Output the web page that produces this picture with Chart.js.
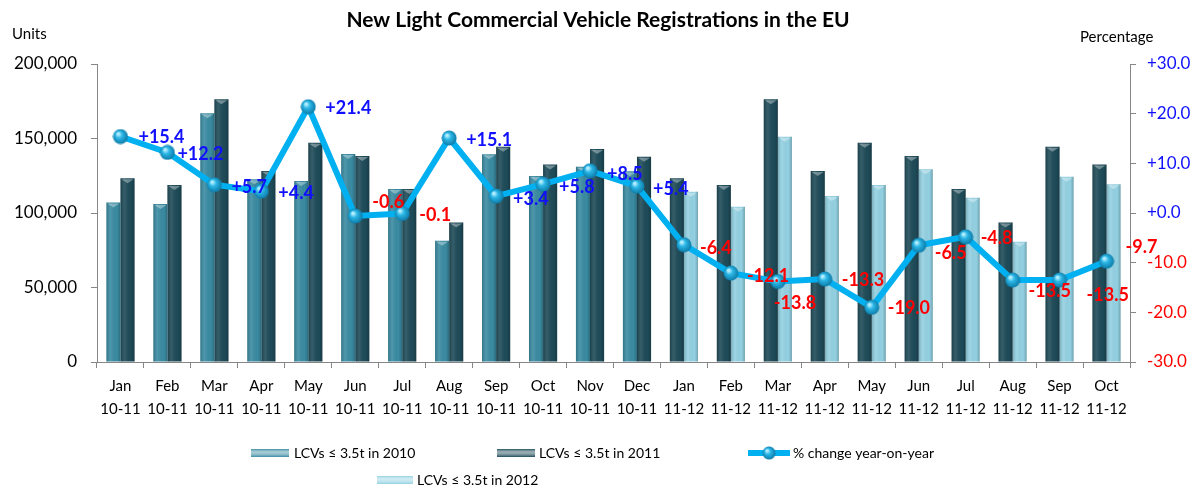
<!DOCTYPE html>
<html>
<head>
<meta charset="utf-8">
<script src="https://cdn.jsdelivr.net/npm/chart.js@4"></script>
<style>
  html, body { margin: 0; padding: 0; background: #fff; }
</style>
</head>
<body>
<canvas id="lcv" width="1201" height="486"></canvas>
<script>
// Categorias (mês + período)
const meses = ['Jan', 'Feb', 'Mar', 'Apr', 'May', 'Jun', 'Jul', 'Aug', 'Sep', 'Oct', 'Nov', 'Dec',
               'Jan', 'Feb', 'Mar', 'Apr', 'May', 'Jun', 'Jul', 'Aug', 'Sep', 'Oct'];
const periodos = ['10-11', '10-11', '10-11', '10-11', '10-11', '10-11', '10-11', '10-11', '10-11', '10-11', '10-11', '10-11',
                  '11-12', '11-12', '11-12', '11-12', '11-12', '11-12', '11-12', '11-12', '11-12', '11-12'];

// Registos (unidades)
const lcv2010 = [107000, 106000, 166900, 122600, 121500, 139600, 116100, 81400, 139400, 124800, 131100, 128000,
                 null, null, null, null, null, null, null, null, null, null];
const lcv2011 = [123300, 118800, 176300, 128200, 147200, 138300, 116100, 93700, 144500, 132500, 143000, 137800,
                 123300, 118800, 176300, 128200, 147200, 138300, 116100, 93700, 144500, 132500];
const lcv2012 = [null, null, null, null, null, null, null, null, null, null, null, null,
                 114300, 104200, 151200, 111400, 118800, 129300, 110300, 80700, 124400, 119300];

// Variação anual (%)
const pctChange = [15.4, 12.2, 5.7, 4.4, 21.4, -0.6, -0.1, 15.1, 3.4, 5.8, 8.5, 5.4,
                   -6.4, -12.1, -13.8, -13.3, -19.0, -6.5, -4.8, -13.5, -13.5, -9.7];

// Eixo direito
const pctTicks = [-30, -20, -10, 0, 10, 20, 30];

// deslocamento das etiquetas da linha (px, relativo ao ponto)
const labelDx = [18, 10, 17, 17, 17, 17, 17, 17, 17, 16, 17, 16, 16, 16, -4, 17, 16, 16, 15, 16, 27, 19];
const labelDy = [1, 2, 2, 2, 1, -14, 2, 2, 3, 3, 3, 3, 3, 3, 22, 1, 1, 8, 1, 11, 15, -14];

const FONT = 'Lato';
const cor2010 = '#3a8ba2';
const cor2011 = '#1e4b58';
const cor2012 = '#93d1e2';
const corLinha = '#00b0f0';

// esfera para os pontos
function makeSphere(r) {
    const c = document.createElement('canvas');
    c.width = c.height = r * 2;
    const g = c.getContext('2d');
    const grad = g.createRadialGradient(r * 0.7, r * 0.65, 1, r, r, r);
    grad.addColorStop(0, '#b5efff');
    grad.addColorStop(0.35, '#2bb6e6');
    grad.addColorStop(1, '#0a76a3');
    g.fillStyle = grad;
    g.beginPath();
    g.arc(r, r, r - 0.5, 0, Math.PI * 2);
    g.fill();
    return c;
}
const esfera = makeSphere(8);

function fmtPct(v) {
    return (v >= 0 ? '+' : '') + v.toFixed(1);
}

// título, legendas, etiquetas e um pouco de volume nas barras
const extras = {
    id: 'extras',
    afterDatasetDraw(chart, args) {
        if (args.meta.type !== 'bar') return;
        const ctx = chart.ctx;
        ctx.save();
        args.meta.data.forEach(el => {
            const p = el.getProps(['x', 'y', 'base', 'width']);
            if (!p.width || p.y == null || isNaN(p.y)) return;
            const x0 = p.x - p.width / 2;
            const g = ctx.createLinearGradient(x0, 0, x0 + p.width, 0);
            g.addColorStop(0, 'rgba(0,0,0,0.18)');
            g.addColorStop(0.3, 'rgba(255,255,255,0.10)');
            g.addColorStop(0.75, 'rgba(0,0,0,0)');
            g.addColorStop(1, 'rgba(0,0,0,0.22)');
            ctx.fillStyle = g;
            ctx.fillRect(x0, p.y, p.width, p.base - p.y);
            // tampa clara no topo
            ctx.fillStyle = 'rgba(255,255,255,0.35)';
            ctx.beginPath();
            ctx.moveTo(x0 + 1, p.y + 1);
            ctx.lineTo(x0 + p.width - 1, p.y + 1);
            ctx.lineTo(p.x, p.y + 5);
            ctx.closePath();
            ctx.fill();
        });
        ctx.restore();
    },
    afterDatasetsDraw(chart) {
        const ctx = chart.ctx;
        const meta = chart.getDatasetMeta(3);
        ctx.save();
        ctx.font = 'bold 18px ' + FONT;
        ctx.textBaseline = 'middle';
        ctx.textAlign = 'left';
        meta.data.forEach((pt, i) => {
            const v = pctChange[i];
            ctx.fillStyle = v >= 0 ? '#1010ff' : '#ff0000';
            ctx.fillText(fmtPct(v), pt.x + labelDx[i], pt.y + labelDy[i]);
        });
        ctx.restore();
    },
    afterDraw(chart) {
        const ctx = chart.ctx;
        ctx.save();
        ctx.fillStyle = '#000';
        ctx.textBaseline = 'middle';
        ctx.textAlign = 'center';
        ctx.font = 'bold 21px ' + FONT;
        ctx.fillText('New Light Commercial Vehicle Registrations in the EU', 598, 20);

        ctx.font = '15px ' + FONT;
        ctx.textAlign = 'left';
        ctx.fillText('Units', 12, 34);
        ctx.fillText('Percentage', 1080, 37);

        // legenda
        const caixa = (x, y, w, cor) => {
            const g = ctx.createLinearGradient(0, y, 0, y + 8);
            g.addColorStop(0, cor);
            g.addColorStop(0.4, 'rgba(255,255,255,0.55)');
            g.addColorStop(1, cor);
            ctx.fillStyle = cor;
            ctx.fillRect(x, y, w, 8);
            ctx.fillStyle = g;
            ctx.fillRect(x, y, w, 8);
        };
        ctx.font = '14px ' + FONT;
        caixa(251, 449, 38, cor2010);
        caixa(497, 449, 38, cor2011);
        caixa(377, 476, 36, cor2012);
        ctx.fillStyle = '#000';
        ctx.fillText(chart.data.datasets[0].label, 294, 453);
        ctx.fillText(chart.data.datasets[1].label, 539, 453);
        ctx.fillText(chart.data.datasets[2].label, 417, 480);

        ctx.strokeStyle = corLinha;
        ctx.lineWidth = 6;
        ctx.beginPath();
        ctx.moveTo(748, 453);
        ctx.lineTo(790, 453);
        ctx.stroke();
        ctx.drawImage(esfera, 769 - 7, 453 - 7, 14, 14);
        ctx.fillStyle = '#000';
        ctx.fillText(chart.data.datasets[3].label, 793, 453);
        ctx.restore();
    }
};

const barra = {
    yAxisID: 'y',
    order: 2,
    skipNull: true,
    categoryPercentage: 0.6,
    barPercentage: 1.0
};

const ctx = document.getElementById('lcv').getContext('2d');
const grafico = new Chart(ctx, {
    type: 'bar',
    data: {
        labels: meses.map((m, i) => [m, periodos[i]]),
        datasets: [
            Object.assign({ label: 'LCVs \u2264 3.5t in 2010', data: lcv2010, backgroundColor: cor2010 }, barra),
            Object.assign({ label: 'LCVs \u2264 3.5t in 2011', data: lcv2011, backgroundColor: cor2011 }, barra),
            Object.assign({ label: 'LCVs \u2264 3.5t in 2012', data: lcv2012, backgroundColor: cor2012 }, barra),
            {
                type: 'line',
                label: '% change year-on-year',
                data: pctChange,
                yAxisID: 'y1',
                order: 0,
                borderColor: corLinha,
                borderWidth: 6,
                tension: 0,
                pointStyle: esfera,
                pointRadius: 8
            }
        ]
    },
    options: {
        responsive: false,
        animation: false,
        layout: { padding: { top: 64, left: 0, right: 0, bottom: 0 } },
        plugins: {
            legend: { display: false },
            tooltip: { enabled: false }
        },
        scales: {
            x: {
                grid: { drawOnChartArea: false, tickLength: 6, color: '#868686', offset: true },
                border: { color: '#868686' },
                ticks: {
                    color: '#000',
                    font: { family: FONT, size: 15, lineHeight: 1.5 },
                    padding: 7,
                    maxRotation: 0,
                    autoSkip: false
                },
                afterFit: s => { s.height = 124; }
            },
            y: {
                position: 'left',
                min: 0,
                max: 200000,
                grid: { drawOnChartArea: false, tickLength: 6, color: '#868686' },
                border: { color: '#868686' },
                ticks: {
                    stepSize: 50000,
                    color: '#000',
                    font: { family: FONT, size: 17 },
                    padding: 14,
                    callback: v => v.toLocaleString('en-US')
                },
                afterFit: s => { s.width = 97; }
            },
            y1: {
                position: 'right',
                min: pctTicks[0],
                max: pctTicks[pctTicks.length - 1],
                grid: { drawOnChartArea: false, tickLength: 6, color: '#868686' },
                border: { color: '#868686' },
                ticks: {
                    stepSize: 10,
                    color: c => c.tick.value >= 0 ? '#1010ff' : '#ff0000',
                    font: { family: FONT, size: 17 },
                    padding: 11,
                    callback: v => fmtPct(v)
                },
                afterFit: s => { s.width = 71; }
            }
        }
    },
    plugins: [extras]
});
</script>
</body>
</html>
